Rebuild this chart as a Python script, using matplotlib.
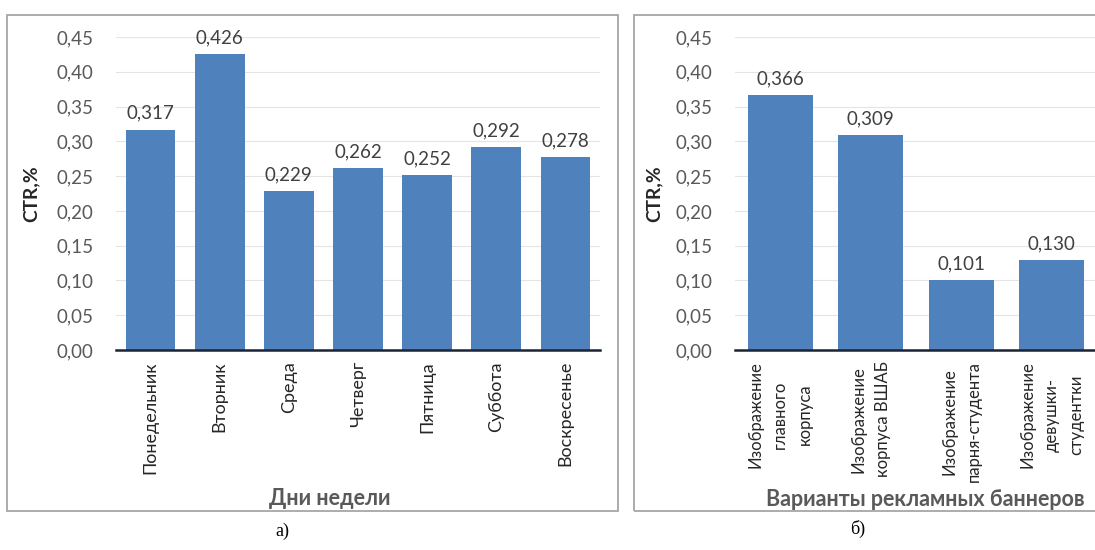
import matplotlib.pyplot as plt
from matplotlib.patches import Rectangle
from matplotlib.ticker import FuncFormatter

days = ["Понедельник", "Вторник", "Среда", "Четверг", "Пятница", "Суббота", "Воскресенье"]
days_ctr = [0.317, 0.426, 0.229, 0.262, 0.252, 0.292, 0.278]

banners = ["Изображение\nглавного\nкорпуса", "Изображение\nкорпуса ВШАБ",
           "Изображение\nпарня-студента", "Изображение\nдевушки-\nстудентки"]
banners_ctr = [0.366, 0.309, 0.101, 0.130]

yticks = [0.0, 0.05, 0.10, 0.15, 0.20, 0.25, 0.30, 0.35, 0.40, 0.45]

plt.rcParams['font.family'] = ['Lato', 'DejaVu Sans']
BAR = "#4f81bd"
TXT = "#595959"
W, H = 1095, 550


def comma(v, pos=None):
    return f"{v:.2f}".replace(".", ",")


def panel(fig, rect, names, values, xlabel, ylab_x, xlab_xy, xtick_size, spacing):
    ax = fig.add_axes(rect)
    x = range(len(names))
    ax.bar(x, values, width=0.72, color=BAR, zorder=2)
    for i, v in zip(x, values):
        ax.text(i, v + 0.011, f"{v:.3f}".replace(".", ","), ha="center", va="bottom",
                fontsize=13.5, color="#404040")
    ax.set_xlim(-0.5, len(names) - 0.5)
    ax.set_ylim(0, 0.45)
    ax.set_yticks(yticks)
    ax.yaxis.set_major_formatter(FuncFormatter(comma))
    ax.set_xticks(list(x))
    ax.set_xticklabels(names, rotation=90, ha="center", va="top", multialignment="center",
                       fontsize=xtick_size, color="#262626", linespacing=spacing)
    ax.tick_params(axis="y", length=0, pad=16, labelsize=13.5, labelcolor=TXT)
    ax.tick_params(axis="x", length=0, pad=8)
    ax.grid(axis="y", color="#e4e4e4", lw=0.8, zorder=0)
    for s in ["top", "right", "left"]:
        ax.spines[s].set_visible(False)
    ax.spines["bottom"].set_color("#1a2436")
    ax.spines["bottom"].set_linewidth(1.8)
    ax.spines["bottom"].set_zorder(3)
    ax.set_ylabel("CTR,%", fontsize=13.8, fontweight="bold", color="#262626")
    ax.yaxis.set_label_coords(ylab_x, 0.5)
    ax.set_xlabel(xlabel, fontsize=15.5, fontweight="bold", color=TXT)
    ax.xaxis.set_label_coords(*xlab_xy)
    return ax


fig = plt.figure(figsize=(W / 100, H / 100), dpi=100)

# panel frames
fig.add_artist(Rectangle((7 / W, 1 - 511 / H), 611 / W, 496 / H, transform=fig.transFigure,
                         fill=False, ec="#a6a6a6", lw=1.3))
fig.add_artist(Rectangle((634 / W, 1 - 511 / H), 470 / W, 496 / H, transform=fig.transFigure,
                         fill=False, ec="#a6a6a6", lw=1.3))

panel(fig, [116 / W, 1 - 350 / H, 484 / W, 313 / H], days, days_ctr,
      "Дни недели", -0.159, (0.442, -0.44), 13, 1.15)
panel(fig, [735 / W, 1 - 350 / H, 362 / W, 313 / H], banners, banners_ctr,
      "Варианты рекламных баннеров", -0.199, (0.525, -0.445), 12, 1.65)

fig.text(282 / W, 1 - 531 / H, "а)", family="Liberation Serif", fontsize=13,
         ha="center", va="center")
fig.text(858 / W, 1 - 529 / H, "б)", family="Liberation Serif", fontsize=13,
         ha="center", va="center")

fig.savefig("out.png", dpi=100)
